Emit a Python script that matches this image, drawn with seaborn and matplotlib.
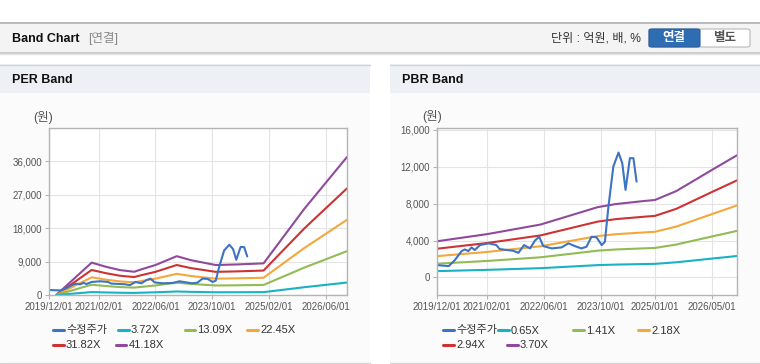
import matplotlib
matplotlib.use("Agg")
import matplotlib.pyplot as plt
import matplotlib.dates as mdates
from matplotlib.patches import Rectangle, FancyBboxPatch
from matplotlib.lines import Line2D
from matplotlib.ticker import StrMethodFormatter
import seaborn as sns
import pandas as pd

# ---- data ----
price_dates = ["2019-12-01", "2020-03-10", "2020-05-01", "2020-06-28", "2020-07-25", "2020-08-25",
               "2020-09-20", "2020-10-18", "2020-12-01", "2021-02-12", "2021-04-20", "2021-05-18",
               "2021-09-12", "2021-10-25", "2021-12-12", "2022-02-01", "2022-03-15", "2022-04-20",
               "2022-05-25", "2022-08-05", "2022-10-28", "2022-12-25", "2023-02-18", "2023-04-15",
               "2023-05-28", "2023-07-10", "2023-08-22", "2023-10-05", "2023-11-01", "2023-12-01",
               "2024-01-12", "2024-02-25", "2024-03-28", "2024-04-25", "2024-06-01", "2024-07-01",
               "2024-07-28"]
price_values = [1340, 1230, 1880, 2860, 3040, 2860,
                3260, 2970, 3510, 3700, 3510, 3080,
                2890, 2670, 3510, 3150, 4000, 4410,
                3400, 3150, 3260, 3700, 3400, 3150,
                3330, 4410, 4350, 3510, 3870, 7670,
                12020, 13540, 12390, 9490, 12930, 12930,
                10390]

eps_dates = ["2020-02-01", "2020-12-01", "2021-04-01", "2021-08-01", "2021-12-01", "2022-02-01",
             "2022-06-01", "2022-12-01", "2023-04-01", "2023-11-01", "2024-05-01", "2024-12-15",
             "2025-12-01", "2026-12-01"]
eps_values = [0, 212, 185, 163, 152, 168, 196, 254, 228, 196, 200, 207, 565, 903]
per_multiples = [3.72, 13.09, 22.45, 31.82, 41.18]

bps_dates = ["2019-12-01", "2021-02-01", "2022-05-01", "2023-09-01", "2024-02-01", "2024-10-01",
             "2025-01-01", "2025-07-01", "2025-11-01", "2026-05-01", "2026-12-01"]
bps_values = [1060, 1270, 1550, 2060, 2150, 2240, 2270, 2530, 2780, 3150, 3580]
pbr_multiples = [0.65, 1.41, 2.18, 2.94, 3.70]

per_ticks = ["2019-12-01", "2021-02-01", "2022-06-01", "2023-10-01", "2025-02-01", "2026-06-01"]
pbr_ticks = ["2019-12-01", "2021-02-01", "2022-06-01", "2023-10-01", "2025-01-01", "2026-05-01"]
per_yticks = [0, 9000, 18000, 27000, 36000]
pbr_yticks = [0, 4000, 8000, 12000, 16000]

price_label = "수정주가"
colors = ["#3d73c4", "#19b2c4", "#93bb55", "#f3a83b", "#cc3333", "#8f4a9c"]

sns.set_style("white")
plt.rcParams["font.family"] = ["Liberation Sans", "Noto Sans CJK KR"]

W, H = 760, 364
fig = plt.figure(figsize=(7.6, 3.64), dpi=100)
fig.patch.set_facecolor("white")


def fx(x):
    return x / W


def fy(y):
    return 1 - y / H


def rect(x0, y0, x1, y1, **kw):
    fig.add_artist(Rectangle((fx(x0), fy(y1)), fx(x1) - fx(x0), fy(y0) - fy(y1),
                             transform=fig.transFigure, zorder=-10, **kw))


def hline(x0, x1, y, color, lw=1.0, z=-5):
    fig.add_artist(Line2D([fx(x0), fx(x1)], [fy(y), fy(y)], transform=fig.transFigure,
                          color=color, lw=lw, zorder=z))


# header bar
rect(0, 22, 760, 53, facecolor="#f4f4f4", edgecolor="none")
hline(0, 760, 22.5, "#b0b0b0", 1.2)
hline(0, 760, 53, "#c4c4c4", 1.2)
hline(0, 760, 54.2, "#e4e4e4", 1.0)
fig.text(fx(12), fy(38.5), "Band Chart", fontsize=9, fontweight="bold", color="#111111", va="center")
fig.text(fx(88), fy(38.5), "[연결]", fontsize=9, color="#8a8a8a", va="center")
fig.text(fx(641), fy(38.5), "단위 : 억원, 배, %", fontsize=8.7, color="#333333", va="center", ha="right")
fig.add_artist(FancyBboxPatch((fx(649), fy(47)), fx(101), 18 / H, boxstyle="round,pad=0,rounding_size=0.004",
                              transform=fig.transFigure, facecolor="white", edgecolor="#b8b8b8", lw=0.8))
fig.add_artist(FancyBboxPatch((fx(649), fy(47)), fx(51), 18 / H, boxstyle="round,pad=0,rounding_size=0.004",
                              transform=fig.transFigure, facecolor="#2f6db3", edgecolor="#2a5f9e", lw=0.8))
fig.text(fx(674), fy(38.5), "연결", fontsize=9, fontweight="bold", color="white", ha="center", va="center")
fig.text(fx(725), fy(38.5), "별도", fontsize=9, fontweight="bold", color="#555555", ha="center", va="center")

# panels
for px0, px1, title in [(0, 370, "PER Band"), (390, 760, "PBR Band")]:
    rect(px0, 64, px1, 93, facecolor="#edf1f6", edgecolor="none")
    rect(px0, 93, px1, 362, facecolor="#fbfbfb", edgecolor="none")
    hline(px0, px1, 64.5, "#d4d4d4", 1.0)
    hline(px0, px1, 362.5, "#d4d4d4", 1.0)
    fig.text(fx(px0 + 12), fy(80), title, fontsize=9, fontweight="bold", color="#111111", va="center")


def draw(ax, base_dates, base_values, multiples, ticks, yticks, ylim):
    rows = [(pd.Timestamp(d), v, price_label) for d, v in zip(price_dates, price_values)]
    labels = [f"{m:.2f}X" for m in multiples]
    for m, lab in zip(multiples, labels):
        rows += [(pd.Timestamp(d), b * m, lab) for d, b in zip(base_dates, base_values)]
    df = pd.DataFrame(rows, columns=["date", "value", "series"])
    order = labels[::-1] + [price_label]
    pal = dict(zip([price_label] + labels, colors))
    for s in order:
        sub = df[df["series"] == s]
        sns.lineplot(data=sub, x="date", y="value", color=pal[s], lw=1.5, ax=ax, legend=False)
    ax.set_xlim(pd.Timestamp("2019-12-01"), pd.Timestamp("2026-12-01"))
    ax.set_ylim(*ylim)
    ax.set_xticks([pd.Timestamp(t) for t in ticks])
    ax.xaxis.set_major_formatter(mdates.DateFormatter("%Y/%m/%d"))
    ax.set_yticks(yticks)
    ax.yaxis.set_major_formatter(StrMethodFormatter("{x:,.0f}"))
    ax.set_xlabel("")
    ax.set_ylabel("")
    ax.set_facecolor("white")
    ax.grid(True, color="#e4e4e4", lw=0.8)
    ax.set_axisbelow(True)
    for sp in ax.spines.values():
        sp.set_color("#b4b4b4")
        sp.set_linewidth(1.0)
    ax.tick_params(axis="both", labelsize=7, colors="#b4b4b4", labelcolor="#555555",
                   length=3, width=0.8, pad=2, direction="out", left=True, bottom=True)
    return labels


ax1 = fig.add_axes([fx(49), fy(295), (347 - 49) / W, (295 - 128) / H])
per_labels = draw(ax1, eps_dates, eps_values, per_multiples, per_ticks, per_yticks, (0, 45000))
ax2 = fig.add_axes([fx(437), fy(295), (737 - 437) / W, (295 - 128) / H])
pbr_labels = draw(ax2, bps_dates, bps_values, pbr_multiples, pbr_ticks, pbr_yticks, (-1900, 16200))

fig.text(fx(33), fy(117.5), "(원)", fontsize=9, color="#555555", va="center")
fig.text(fx(422), fy(116.5), "(원)", fontsize=9, color="#555555", va="center")

# legends
per_pos = [(53, 329.5), (118, 329.5), (184.5, 329.5), (247, 329.5), (53, 344.5), (116, 344.5)]
pbr_pos = [(443.5, 330), (498, 330), (573, 330), (638, 330), (443.5, 344.5), (507, 344.5)]
for pos, labels in [(per_pos, per_labels), (pbr_pos, pbr_labels)]:
    for (x, y), lab, c in zip(pos, [price_label] + labels, colors):
        hline(x, x + 10.5, y, c, 2.2, z=5)
        fig.text(fx(x + 13), fy(y + 0.5), lab, fontsize=8, color="#333333", va="center")

fig.savefig("out.png", dpi=100)
